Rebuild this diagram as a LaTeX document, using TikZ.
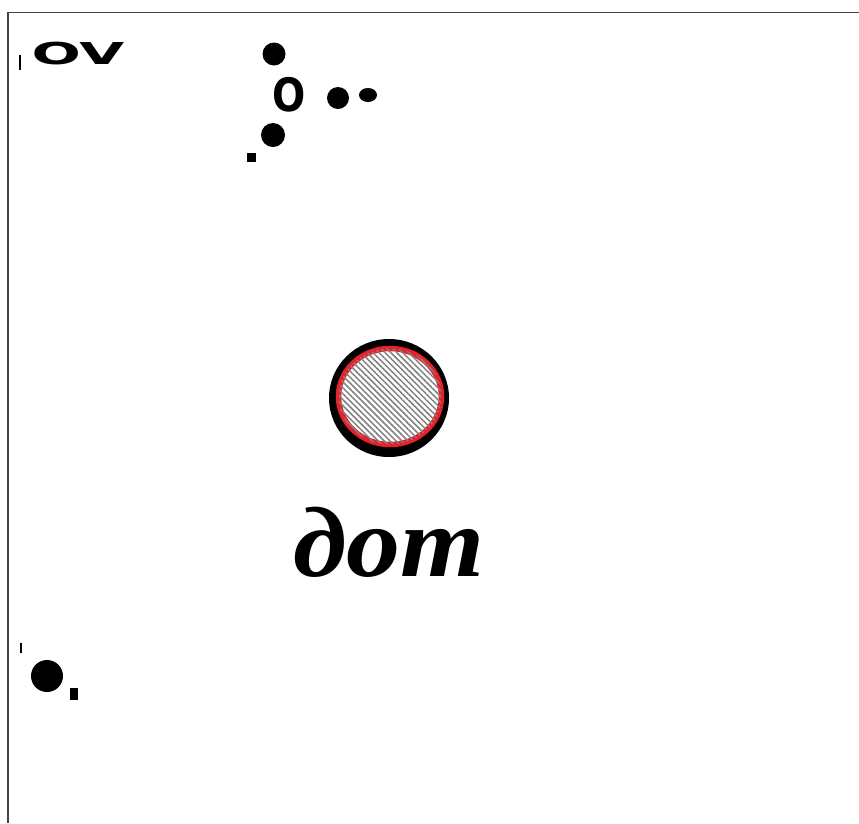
\documentclass[tikz,border=0pt]{standalone}
\usepackage{fontspec}
\usepackage{tikz}
\usetikzlibrary{patterns.meta, positioning, shapes.geometric}
\newfontfamily\cyrfont{Liberation Serif}
\newfontfamily\labelfont{DejaVu Sans}
\definecolor{dotred}{HTML}{E8202A}
\definecolor{framegray}{HTML}{444444}

\begin{document}
\begin{tikzpicture}[x=1pt, y=-1pt,
  blob/.style={circle, fill=black, inner sep=0pt, minimum size=#1},
  speck/.style={fill=black, inner sep=0pt, minimum width=#1, minimum height=#1},
  tick/.style={line width=1.6pt, black},
  edge/.style={line width=1.6pt, framegray}
]
  \useasboundingbox (0,0) rectangle (859,823);

  % Frame (top and left only)
  \coordinate (tl) at (8, 12.5);
  \coordinate (tr) at (859, 12.5);
  \coordinate (bl) at (8, 823);
  \draw[edge] (tr) -- (tl) -- (bl);

  % Top left letters
  \node[font=\labelfont\bfseries\fontsize{58}{58}\selectfont, yscale=0.52,
    inner sep=0pt] (ov) at (78, 53.5) {OV};
  \coordinate (t1a) at (20, 55);
  \coordinate (t1b) at (20, 70);
  \draw[tick] (t1a) -- (t1b);

  % Cluster of dots
  \node[blob=23pt] (d1) at (274, 54) {};
  \node[font=\labelfont\bfseries\fontsize{46}{46}\selectfont, xscale=0.85,
    inner sep=0pt] (o) at (289, 95) {O};
  \node[blob=22pt] (d2) at (338, 98) {};
  \node[ellipse, fill=black, inner sep=0pt, minimum width=18pt,
    minimum height=14pt] (d3) at (368, 95) {};
  \node[blob=24pt] (d4) at (273, 135) {};
  \node[speck=9pt] (d5) at (251, 157) {};

  % Hatched disc
  \node[ellipse, fill=black, inner sep=0pt, minimum width=120pt,
    minimum height=118pt] (ring) at (389, 398) {};
  \node[ellipse, draw=dotred, line width=5.5pt, fill=white,
    minimum width=103pt, minimum height=96pt, inner sep=0pt,
    postaction={pattern={Lines[angle=-45, distance=4.2pt, line width=1.5pt]},
      pattern color=gray}]
    (disc) at (390, 396.5) {};

  % Word
  \node[font=\cyrfont\bfseries\itshape\fontsize{100}{100}\selectfont,
    xscale=1.08, anchor=base, inner sep=0pt] (word) at (389, 576) {дот};

  % Bottom left
  \coordinate (t2a) at (21, 643);
  \coordinate (t2b) at (21, 653);
  \draw[tick] (t2a) -- (t2b);
  \node[blob=32pt] (d6) at (47, 676) {};
  \node[speck=0pt, minimum width=8pt, minimum height=12pt] (d7)
    at (74, 694) {};
\end{tikzpicture}
\end{document}
